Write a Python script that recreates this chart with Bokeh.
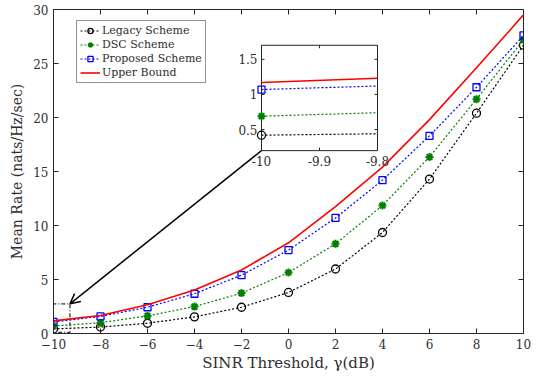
import math
from bokeh.plotting import figure
from bokeh.models import Range1d, Arrow, OpenHead
from bokeh.embed import file_html
from bokeh.resources import INLINE
from bokeh.core.properties import value

# ---------------- data ----------------
sinr_db = [-10, -8, -6, -4, -2, 0, 2, 4, 6, 8, 10]
legacy = [0.42, 0.60, 0.95, 1.54, 2.43, 3.80, 5.97, 9.35, 14.3, 20.4, 26.7]
dsc = [0.69, 1.00, 1.63, 2.49, 3.74, 5.64, 8.30, 11.85, 16.35, 21.7, 27.2]
proposed = [1.07, 1.58, 2.43, 3.68, 5.40, 7.72, 10.7, 14.2, 18.3, 22.8, 27.6]
upper = [1.17, 1.66, 2.67, 4.03, 5.88, 8.40, 11.75, 15.4, 19.8, 24.6, 29.5]

inset_x = [-10.0, -9.8]
inset_legacy = [0.42, 0.44]
inset_dsc = [0.69, 0.74]
inset_proposed = [1.07, 1.12]
inset_upper = [1.17, 1.23]

x_ticks = [-10, -8, -6, -4, -2, 0, 2, 4, 6, 8, 10]
y_ticks = [0, 5, 10, 15, 20, 25, 30]
inset_x_ticks = [-10.0, -9.9, -9.8]
inset_x_labels = ["-10", "-9.9", "-9.8"]
inset_y_ticks = [0.5, 1.0, 1.5]
inset_y_labels = ["0.5", "1", "1.5"]

zoom_box_x = [-10.05, -9.3]
zoom_box_y = [0.1, 2.75]

# ---------------- style ----------------
FONT = "DejaVu Serif"
TXT = "#2e2e2e"
AX = "#262626"
C_LEG, C_DSC, C_PRO, C_UP = "black", "#008000", "#0000ff", "#ff0000"
DOT = "2 2"

W, H = 531, 374
BL, BR, BT, BB = 53, 8, 9, 39
X0, X1, Y0, Y1 = -10, 10, 0, 30
p = figure(width=W, height=H, x_range=Range1d(X0, X1), y_range=Range1d(Y0, Y1),
           output_backend="svg", toolbar_location=None,
           min_border_left=BL, min_border_right=BR, min_border_top=BT, min_border_bottom=BB)
p.background_fill_color = "white"
p.border_fill_color = "white"
p.outline_line_color = AX
p.outline_line_width = 1
p.xgrid.visible = False
p.ygrid.visible = False

for ax in (p.xaxis[0], p.yaxis[0]):
    ax.axis_line_color = AX
    ax.major_tick_line_color = AX
    ax.major_tick_in = 5
    ax.major_tick_out = 0
    ax.minor_tick_line_color = None
    ax.major_label_text_font = FONT
    ax.major_label_text_font_size = "12px"
    ax.major_label_text_color = TXT
    ax.axis_label_text_font = FONT
    ax.axis_label_text_font_style = "normal"
    ax.axis_label_text_color = TXT
p.xaxis.axis_label_text_font_size = "15px"
p.yaxis.axis_label_text_font_size = "14px"
p.xaxis.ticker = x_ticks
p.yaxis.ticker = y_ticks
p.xaxis.axis_label = "SINR Threshold, γ(dB)"
p.yaxis.axis_label = "Mean Rate (nats/Hz/sec)"
p.xaxis.major_label_standoff = 5
p.xaxis.axis_label_standoff = 2
p.yaxis.major_label_standoff = 5
p.yaxis.axis_label_standoff = 5

# top / right inward ticks (box style)
p.ray(x=x_ticks, y=[Y1] * len(x_ticks), length=5, length_units="screen",
      angle=-math.pi / 2, line_color=AX, line_width=1)
p.ray(x=[X1] * len(y_ticks), y=y_ticks, length=5, length_units="screen",
      angle=math.pi, line_color=AX, line_width=1)

# ---------------- main series ----------------
p.line(sinr_db, legacy, line_color=C_LEG, line_dash=DOT, line_width=1.2, legend_label="Legacy Scheme")
p.scatter(sinr_db, legacy, marker="circle", size=8, line_color=C_LEG, fill_color=None,
          line_width=1.3, legend_label="Legacy Scheme")
p.line(sinr_db, dsc, line_color=C_DSC, line_dash=DOT, line_width=1.2, legend_label="DSC Scheme")
p.scatter(sinr_db, dsc, marker="asterisk", size=8, line_color=C_DSC, line_width=2,
          legend_label="DSC Scheme")
p.line(sinr_db, proposed, line_color=C_PRO, line_dash=DOT, line_width=1.2, legend_label="Proposed Scheme")
p.scatter(sinr_db, proposed, marker="square", size=7, line_color=C_PRO, fill_color=None,
          line_width=1.3, legend_label="Proposed Scheme")
p.line(sinr_db, upper, line_color=C_UP, line_width=1.6, legend_label="Upper Bound")

# zoom box
p.quad(left=[zoom_box_x[0]], right=[zoom_box_x[1]], bottom=[zoom_box_y[0]], top=[zoom_box_y[1]],
       fill_color=None, line_color="#333333", line_width=1.3, line_dash="4 2 1 2")

# ---------------- inset (via extra ranges) ----------------
FW, FH = W - BL - BR, H - BT - BB
# inset box in canvas pixels -> fractions of the frame
IL, IR, ITOP, IBOT = 261, 377, 45, 151
FX0, FX1 = (IL - BL) / FW, (IR - BL) / FW
FY0, FY1 = (H - BB - IBOT) / FH, (H - BB - ITOP) / FH
IX0, IX1 = inset_x_ticks[0], inset_x_ticks[-1]
IY0, IY1 = 0.2, 1.7
sx = (IX1 - IX0) / (FX1 - FX0)
sy = (IY1 - IY0) / (FY1 - FY0)
p.extra_x_ranges = {"ix": Range1d(IX0 - FX0 * sx, IX0 - FX0 * sx + sx)}
p.extra_y_ranges = {"iy": Range1d(IY0 - FY0 * sy, IY0 - FY0 * sy + sy)}
kw = dict(x_range_name="ix", y_range_name="iy")

p.quad(left=[IX0], right=[IX1], bottom=[IY0], top=[IY1], fill_color="white",
       line_color=AX, line_width=1, **kw)
p.line(inset_x, inset_legacy, line_color=C_LEG, line_dash=DOT, line_width=1.2, **kw)
p.line(inset_x, inset_dsc, line_color=C_DSC, line_dash=DOT, line_width=1.2, **kw)
p.line(inset_x, inset_proposed, line_color=C_PRO, line_dash=DOT, line_width=1.2, **kw)
p.line(inset_x, inset_upper, line_color=C_UP, line_width=1.6, **kw)
p.scatter(inset_x[:1], inset_legacy[:1], marker="circle", size=8, line_color=C_LEG,
          fill_color=None, line_width=1.3, **kw)
p.scatter(inset_x[:1], inset_dsc[:1], marker="asterisk", size=8, line_color=C_DSC,
          line_width=2, **kw)
p.scatter(inset_x[:1], inset_proposed[:1], marker="square", size=7, line_color=C_PRO,
          fill_color=None, line_width=1.3, **kw)

n = len(inset_x_ticks)
m = len(inset_y_ticks)
p.ray(x=inset_x_ticks, y=[IY0] * n, length=3, length_units="screen", angle=math.pi / 2,
      line_color=AX, **kw)
p.ray(x=inset_x_ticks, y=[IY1] * n, length=3, length_units="screen", angle=-math.pi / 2,
      line_color=AX, **kw)
p.ray(x=[IX0] * m, y=inset_y_ticks, length=3, length_units="screen", angle=0,
      line_color=AX, **kw)
p.ray(x=[IX1] * m, y=inset_y_ticks, length=3, length_units="screen", angle=math.pi,
      line_color=AX, **kw)
p.text(x=inset_x_ticks, y=[IY0] * n, text=inset_x_labels, y_offset=5,
       text_align="center", text_baseline="top", text_font=value(FONT),
       text_font_size="12px", text_color=TXT, **kw)
p.text(x=[IX0] * m, y=inset_y_ticks, text=inset_y_labels, x_offset=-4,
       text_align="right", text_baseline="middle", text_font=value(FONT),
       text_font_size="12px", text_color=TXT, **kw)

# arrow from inset corner to zoom box
ax_start = X0 + (X1 - X0) * FX0
ay_start = Y0 + (Y1 - Y0) * FY0
p.add_layout(Arrow(end=OpenHead(size=10, line_width=1.5, line_color="black"),
                   x_start=ax_start, y_start=ay_start,
                   x_end=zoom_box_x[1], y_end=zoom_box_y[1],
                   line_color="black", line_width=1.5))

# ---------------- legend ----------------
lg = p.legend[0]
LH, LSP, LPAD, NITEMS = 13, 1, 3, 4
leg_h = 2 * LPAD + NITEMS * LH + (NITEMS - 1) * LSP
lg.location = (23, FH - 15 - leg_h)
lg.border_line_color = AX
lg.border_line_width = 1
lg.background_fill_color = "white"
lg.background_fill_alpha = 1
lg.label_text_font = FONT
lg.label_text_font_size = "11px"
lg.label_text_color = TXT
lg.label_height = LH
lg.glyph_height = LH
lg.glyph_width = 20
lg.label_standoff = 2
lg.spacing = LSP
lg.padding = LPAD
lg.margin = 0

open("out.html", "w").write(file_html(p, INLINE))
